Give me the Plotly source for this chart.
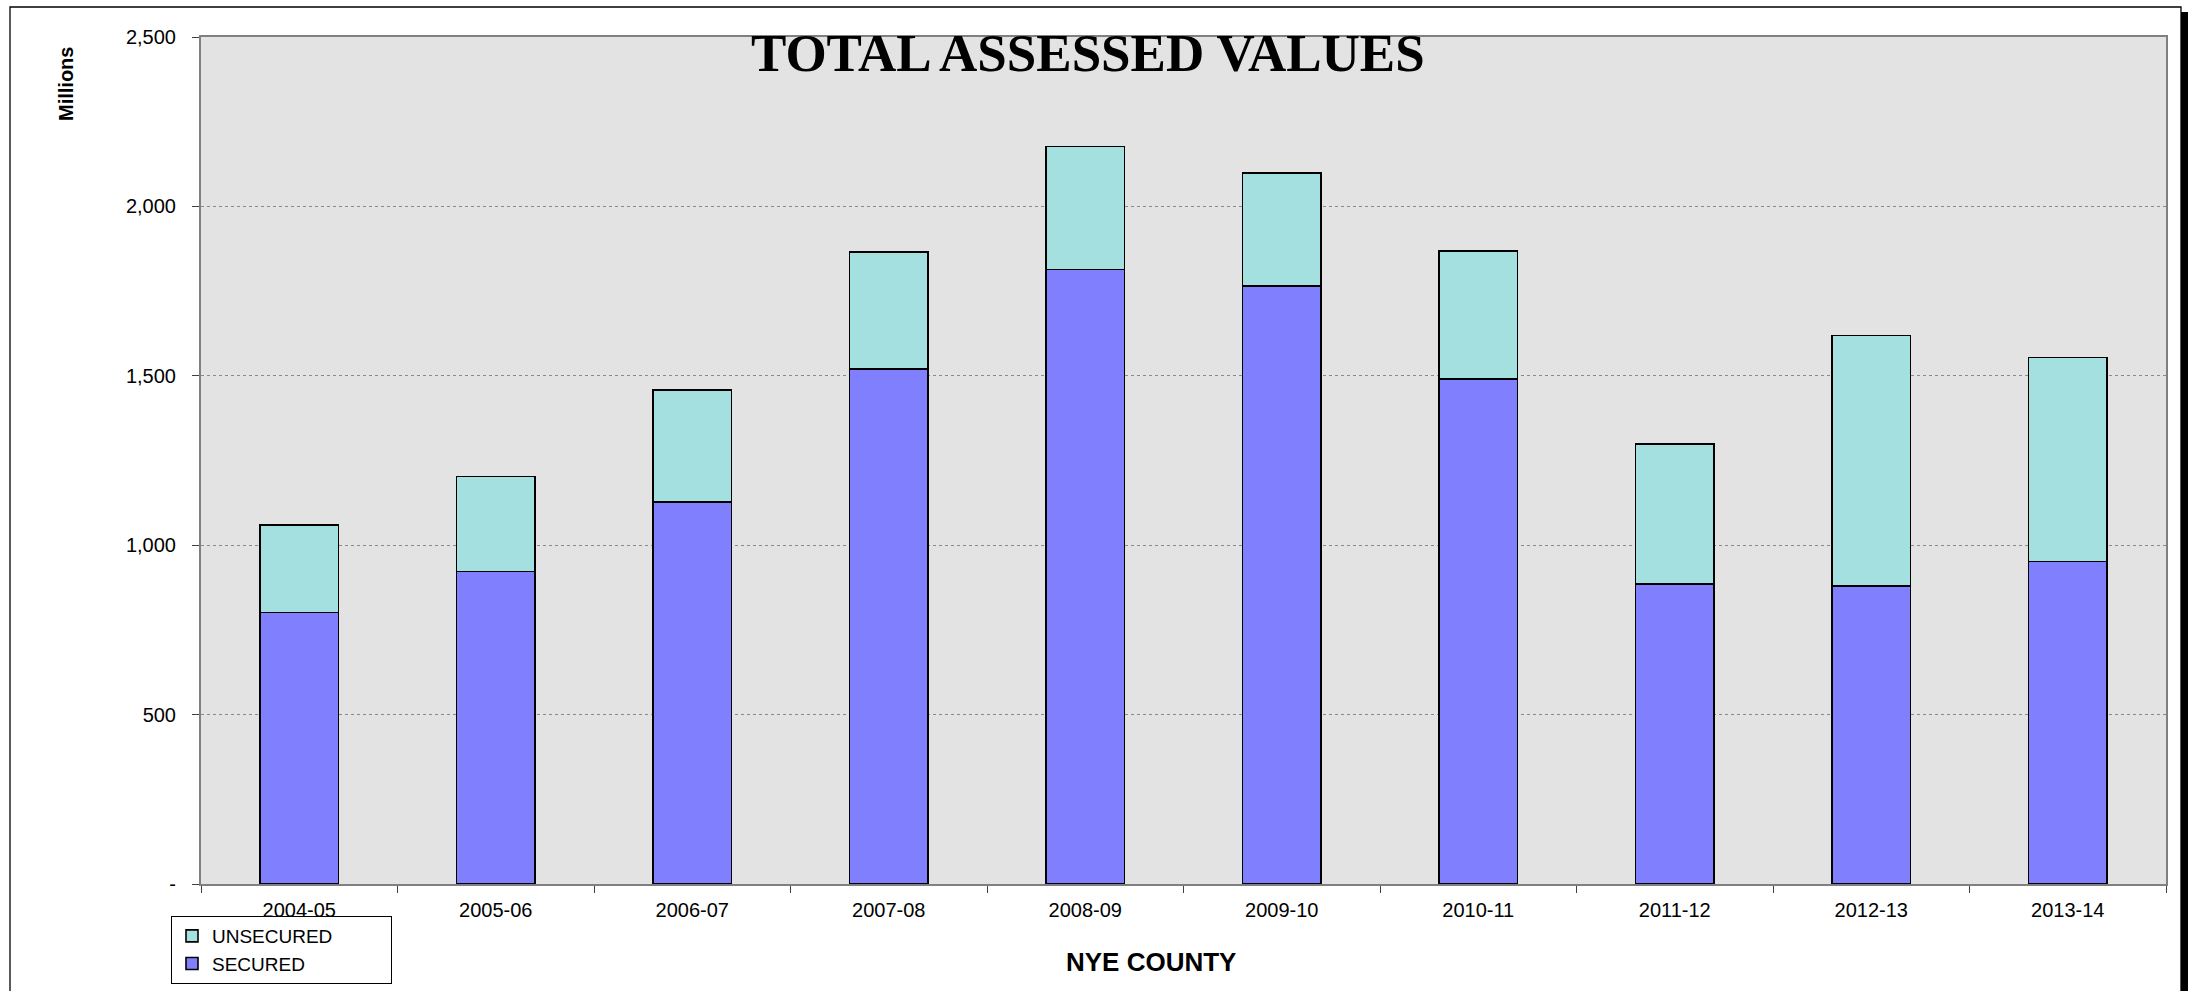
import plotly.graph_objects as go

years = ["2004-05", "2005-06", "2006-07", "2007-08", "2008-09",
         "2009-10", "2010-11", "2011-12", "2012-13", "2013-14"]
secured = [801, 922, 1127, 1520, 1814, 1765, 1491, 885, 880, 952]
unsecured = [258, 281, 331, 345, 363, 333, 378, 414, 739, 602]

ytick_vals = [0, 500, 1000, 1500, 2000, 2500]
ytick_text = ["-", "500", "1,000", "1,500", "2,000", "2,500"]

W, H = 2193, 991
L, R, T, B = 201, 2166, 37, 884


def px(x):
    return (x - L) / (R - L)


def py(y):
    return 1 - (y - T) / (B - T)


PAD = "\u00a0" * 10

fig = go.Figure()
fig.add_trace(go.Bar(x=years, y=secured, name="SECURED" + PAD, width=0.4,
                     marker=dict(color="#8080FF", line=dict(color="black", width=1.6))))
fig.add_trace(go.Bar(x=years, y=unsecured, name="UNSECURED" + PAD, width=0.4,
                     marker=dict(color="#A4E0E0", line=dict(color="black", width=1.6))))

fig.update_layout(
    width=W, height=H,
    barmode="stack",
    margin=dict(l=L, r=W - R, t=T, b=H - B, pad=0, autoexpand=False),
    paper_bgcolor="white",
    plot_bgcolor="#E3E3E3",
    font=dict(family="Liberation Sans, Arial", size=20, color="black"),
    showlegend=True,
    legend=dict(
        x=px(171), y=py(916), xanchor="left", yanchor="top",
        traceorder="reversed",
        bgcolor="white", bordercolor="black", borderwidth=1,
        font=dict(size=19, family="Liberation Sans, Arial"),
        itemwidth=30,
        tracegroupgap=0,
    ),
    xaxis=dict(
        type="category",
        showgrid=False,
        showline=True, linecolor="#808080", linewidth=2, mirror=True,
        ticks="outside", ticklen=7, tickcolor="#404040", tickson="boundaries",
        ticklabelstandoff=7,
        tickfont=dict(size=20),
    ),
    yaxis=dict(
        range=[0, 2500],
        tickvals=ytick_vals, ticktext=ytick_text,
        showgrid=True, gridcolor="#8a8a8a", griddash="dot", gridwidth=1,
        showline=True, linecolor="#808080", linewidth=2, mirror=True,
        ticks="outside", ticklen=7, tickcolor="#404040",
        ticklabelstandoff=12,
        tickfont=dict(size=20),
        zeroline=False,
    ),
    annotations=[
        dict(text="<b>TOTAL ASSESSED VALUES</b>", xref="paper", yref="paper",
             x=px(1088), y=py(53), xanchor="center", yanchor="middle",
             showarrow=False,
             font=dict(family="Liberation Serif, Times New Roman", size=53, color="black")),
        dict(text="<b>Millions</b>", xref="paper", yref="paper",
             x=px(66), y=py(84), xanchor="center", yanchor="middle",
             textangle=-90, showarrow=False,
             font=dict(size=20, color="black")),
        dict(text="<b>NYE COUNTY</b>", xref="paper", yref="paper",
             x=px(1151), y=py(962), xanchor="center", yanchor="middle",
             showarrow=False,
             font=dict(size=26, color="black")),
    ],
    shapes=[
        dict(type="rect", xref="paper", yref="paper",
             x0=px(10), x1=px(2181), y0=py(1100), y1=py(7),
             line=dict(color="black", width=1.3), fillcolor="rgba(0,0,0,0)", layer="below"),
        dict(type="rect", xref="paper", yref="paper",
             x0=px(2181), x1=px(2188), y0=py(1100), y1=py(12),
             line=dict(width=0), fillcolor="black"),
    ],
)

fig.write_html("out.html", config={"displayModeBar": False},
               post_script="document.body.style.margin='0';document.body.style.overflow='hidden';")
